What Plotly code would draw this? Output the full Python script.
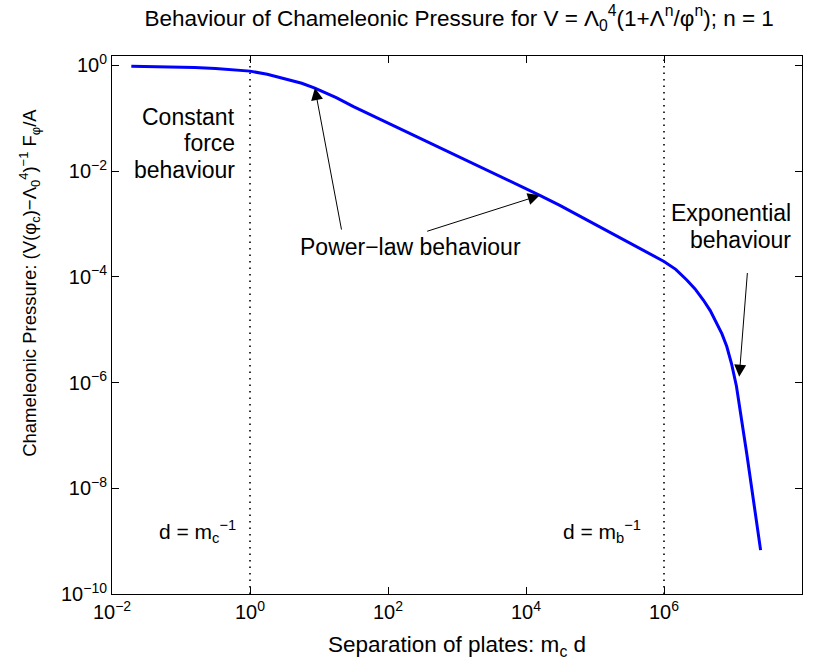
import plotly.graph_objects as go

# log10 of separation m_c d and log10 of normalised pressure
log_sep = [-1.72, -1.2, -0.8, -0.5, -0.25, 0.0, 0.25, 0.5, 0.75, 0.94, 1.25, 1.5, 2.0, 3.0, 4.0,
           4.2, 4.49, 5.0, 5.5, 5.75, 6.0, 6.17, 6.33, 6.45, 6.57, 6.67, 6.76, 6.84, 6.91, 6.98,
           7.05, 7.2, 7.4]
log_pressure = [-0.02, -0.025, -0.04, -0.06, -0.08, -0.11, -0.17, -0.25, -0.34, -0.43, -0.61,
                -0.78, -1.09, -1.71, -2.33, -2.46, -2.65, -3.01, -3.36, -3.53, -3.71, -3.86,
                -4.06, -4.23, -4.44, -4.64, -4.88, -5.08, -5.32, -5.65, -6.07, -7.35, -9.17]
separation = [10 ** v for v in log_sep]
pressure = [10 ** v for v in log_pressure]

scale_lines = [1.0, 1e6]          # d = 1/m_c and d = 1/m_b
x_tick_exp = [-2, 0, 2, 4, 6, 8]
y_tick_exp = [0, -2, -4, -6, -8, -10]
x_range = [-2, 8]
y_range = [-10, 0.176]

FONT = "Liberation Sans, Arial, Helvetica, sans-serif"
TICK_FS = 20
ANN_FS = 23

def lab(e):
    s = str(e).replace("-", "\u2212")
    return f"10<sup>{s}</sup>"

fig = go.Figure()
for xv in scale_lines:
    fig.add_trace(go.Scatter(x=[xv, xv], y=[10 ** y_range[0], 10 ** y_range[1]], mode="lines",
                             line=dict(color="black", width=1.6, dash="1.5px,5px"),
                             showlegend=False, hoverinfo="skip"))
fig.add_trace(go.Scatter(x=separation, y=pressure, mode="lines",
                         line=dict(color="#0000ff", width=3), showlegend=False))

axis_common = dict(showgrid=False, zeroline=False, showline=True, linecolor="black", linewidth=1,
                   mirror="ticks", ticks="inside", ticklen=7, tickcolor="black",
                   tickfont=dict(family=FONT, size=TICK_FS, color="black"))

fig.update_xaxes(type="log", range=x_range,
                 tickvals=[10 ** e for e in x_tick_exp], ticktext=[lab(e) for e in x_tick_exp],
                 title=dict(text="Separation of plates: m<sub>c</sub> d",
                            font=dict(family=FONT, size=22.5, color="black"), standoff=14),
                 **axis_common)
fig.update_yaxes(type="log", range=y_range,
                 tickvals=[10 ** e for e in y_tick_exp], ticktext=[lab(e) for e in y_tick_exp],
                 **axis_common)

# y-axis label (placed as rotated text)
fig.add_annotation(xref="paper", yref="paper", x=-0.1190, y=(594.5 - 283) / 538.8,
                   xanchor="center", yanchor="middle", textangle=-90, showarrow=False,
                   text="Chameleonic Pressure: (V(\u03c6<sub>c</sub>)\u2212\u039b<sub>0</sub><sup>4</sup>)<sup>\u22121</sup> F<sub>\u03c6</sub>/A",
                   font=dict(family=FONT, size=18.5, color="black"))

text_lines = [
    # (log x, log y, text, anchor, size)
    (-0.19, -0.98, "Constant", "right", ANN_FS),
    (-0.19, -1.47, "force", "right", ANN_FS),
    (-0.19, -1.98, "behaviour", "right", ANN_FS),
    (2.32, -3.44, "Power\u2212law behaviour", "center", ANN_FS),
    (7.87, -2.80, "Exponential", "right", ANN_FS),
    (7.87, -3.31, "behaviour", "right", ANN_FS),
    (-0.17, -8.82, "d = m<sub>c</sub><sup>\u22121</sup>", "right", 21),
    (5.69, -8.82, "d = m<sub>b</sub><sup>\u22121</sup>", "right", 21),
]
for lx, ly, t, anc, fs in text_lines:
    fig.add_annotation(x=lx, y=ly, xref="x", yref="y", showarrow=False, yanchor="middle",
                       xanchor=anc, text=t, font=dict(family=FONT, size=fs, color="black"))

arrows = [
    ((0.94, -0.43), (1.33, -3.135)),
    ((4.2, -2.46), (2.546, -3.148)),
    ((7.09, -5.89), (7.21, -3.90)),
]
for (tx, ty), (ax_, ay_) in arrows:
    fig.add_annotation(x=tx, y=ty, ax=ax_, ay=ay_, xref="x", yref="y", axref="x", ayref="y",
                       showarrow=True, arrowhead=2, arrowsize=2.4, arrowwidth=1, arrowcolor="black",
                       text="")

fig.update_layout(
    width=817, height=666,
    margin=dict(l=112, r=15, t=56, b=71.5),
    paper_bgcolor="white", plot_bgcolor="white",
    title=dict(text="Behaviour of Chameleonic Pressure for V = \u039b<sub>0</sub><sup>4</sup>(1+\u039b<sup>n</sup>/\u03c6<sup>n</sup>); n = 1",
               x=0.562, xanchor="center", y=0.973, yanchor="middle",
               font=dict(family=FONT, size=22.5, color="black")),
    font=dict(family=FONT, size=TICK_FS, color="black"),
)

fig.write_html("out.html")
